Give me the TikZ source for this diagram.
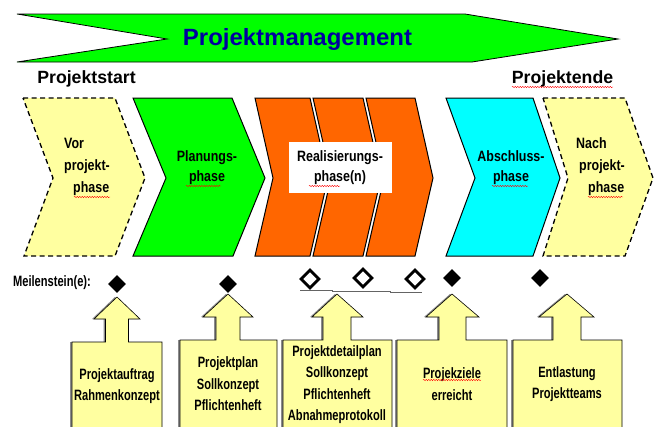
\documentclass[tikz,border=0pt]{standalone}
\usepackage{fontspec}
\setmainfont{Liberation Sans}
\newfontfamily\fT{Liberation Sans}[FakeStretch=1.02]
\newfontfamily\fS{Liberation Sans}
\newfontfamily\fP{Liberation Sans}[FakeStretch=0.83]
\newfontfamily\fB{Liberation Sans}[FakeStretch=0.74]
\usetikzlibrary{shapes.geometric,decorations.pathmorphing}
\definecolor{pale}{RGB}{255,255,160}
\definecolor{pgreen}{RGB}{0,255,0}
\definecolor{porange}{RGB}{255,102,0}
\definecolor{pcyan}{RGB}{0,255,255}
\definecolor{pblue}{RGB}{0,0,160}
\definecolor{lgray}{RGB}{100,100,100}
\definecolor{shgray}{RGB}{140,140,140}
\tikzset{
  chev/.style={draw=black, line width=1pt, line join=miter},
  dashchev/.style={draw=black, line width=1.3pt, dash pattern=on 5pt off 3.5pt, fill=pale},
  abox/.style={draw=black, line width=0.6pt, fill=pale},
  ashadow/.style={fill=shgray},
  lbl/.style={font=\fP\bfseries\fontsize{15}{20}\selectfont, align=center, inner sep=0pt},
  lbl3/.style={font=\fP\bfseries\fontsize{15}{22}\selectfont, align=left, inner sep=0pt, anchor=west},
  boxtxt/.style={font=\fB\bfseries\fontsize{15}{21.5}\selectfont, align=center, inner sep=0pt},
  msfull/.style={shape=diamond, fill=black, minimum width=18pt, minimum height=18pt, inner sep=0pt},
  msopen/.style={shape=diamond, draw=black, line width=2.8pt, fill=white, minimum width=19pt, minimum height=19pt, inner sep=0pt},
  wavy/.style={draw=red, line width=0.4pt, decorate, decoration={snake, amplitude=0.7pt, segment length=2.5pt}},
  hdr/.style={font=\fS\bfseries\fontsize{17.7}{19}\selectfont, inner sep=0pt}
}
\begin{document}
\begin{tikzpicture}[x=1pt,y=-1pt]
\useasboundingbox (0,0) rectangle (655,426);
\fill[white] (0,0) rectangle (655,426);

% top banner
\draw[fill=pgreen, draw=black, line width=0.8pt, line join=miter] (17,14) -- (465,14) -- (618,39) -- (472,62) -- (17,62) -- (167,39) -- cycle;
\node[font=\fT\bfseries\fontsize{23.5}{25}\selectfont, text=pblue, inner sep=0pt] (title) at (297.5,39) {Projektmanagement};

\node[hdr] (start) at (86.5,79) {Projektstart};
\node[hdr] (ende) at (562.5,79) {Projektende};
\draw[wavy] (512,87) -- (613,87);

% phases
\draw[dashchev] (23,98) -- (115,98) -- (145,178) -- (115,256) -- (24,256) -- (53,178) -- cycle;
\draw[chev, fill=pgreen] (133,98) -- (232,98) -- (265,178) -- (233,256) -- (133,256) -- (166,178) -- cycle;
\draw[chev, fill=porange] (255,98) -- (310,98) -- (328,178) -- (310,256) -- (255,256) -- (273,178) -- cycle;
\draw[chev, fill=porange] (313,98) -- (363,98) -- (381,178) -- (363,256) -- (313,256) -- (331,178) -- cycle;
\draw[chev, fill=porange] (366,98) -- (415,98) -- (433,178) -- (415,256) -- (366,256) -- (384,178) -- cycle;
\fill[white] (289,142) rectangle (392,193);
\draw[chev, fill=pcyan] (446,98) -- (533,98) -- (560,178) -- (533,256) -- (446,256) -- (475,178) -- cycle;
\draw[dashchev] (543,98) -- (625,98) -- (653,178) -- (625,256) -- (543,256) -- (568,178) -- cycle;

\node[lbl3] (vor) at (64,167) {Vor\\projekt-\\\hspace*{9pt}phase};
\node[lbl] (plan) at (207,168) {Planungs-\\phase};
\node[lbl] (real) at (340,168) {Realisierungs-\\phase(n)};
\node[lbl] (absch) at (511,168) {Abschluss-\\phase};
\node[lbl3] (nach) at (576,167) {Nach\\\hspace*{3pt}projekt-\\\hspace*{12pt}phase};

\draw[wavy] (74,197) -- (110,197);
\draw[wavy] (186,186) -- (221,186);
\draw[wavy] (309,186) -- (340,186);
\draw[wavy] (492,186) -- (528,186);
\draw[wavy] (588,197) -- (623,197);

% milestones
\node[font=\fB\bfseries\fontsize{15}{16}\selectfont, inner sep=0pt] (mslbl) at (52,283) {Meilenstein(e):};
\draw[draw=lgray, line width=0.8pt] (300,290) -- (332,290) -- (332,291) -- (390,291) -- (390,292) -- (422,292);
\node[msfull] (m1) at (117,284) {};
\node[msfull] (m2) at (228,284) {};
\node[msopen] (m3) at (310,279) {};
\node[msopen] (m4) at (363,278) {};
\node[msopen] (m5) at (415,279) {};
\node[msfull] (m6) at (452,278) {};
\node[msfull] (m7) at (540,278) {};

% result boxes with arrows
\begin{scope}
\clip (0,0) rectangle (655,426);
\begin{scope}[xshift=-2pt]
\fill[ashadow] (117,297) -- (140,319) -- (128.5,319) -- (128.5,342) -- (162,342) -- (162,430) -- (72,430) -- (72,342) -- (105.5,342) -- (105.5,319) -- (94,319) -- cycle;
\fill[ashadow] (228,294) -- (253,317) -- (240,317) -- (240,340) -- (277,340) -- (277,430) -- (180,430) -- (180,340) -- (216,340) -- (216,317) -- (203,317) -- cycle;
\fill[ashadow] (337,294) -- (363,317) -- (351,317) -- (351,340) -- (392,340) -- (392,430) -- (283,430) -- (283,340) -- (323,340) -- (323,317) -- (312,317) -- cycle;
\fill[ashadow] (452,294) -- (479,317) -- (466,317) -- (466,340) -- (507,340) -- (507,430) -- (397,430) -- (397,340) -- (439,340) -- (439,317) -- (426,317) -- cycle;
\fill[ashadow] (567,294) -- (594,317) -- (581,317) -- (581,340) -- (622,340) -- (622,430) -- (513,430) -- (513,340) -- (553,340) -- (553,317) -- (539,317) -- cycle;
\end{scope}
\draw[abox] (117,297) -- (140,319) -- (128.5,319) -- (128.5,342) -- (162,342) -- (162,430) -- (72,430) -- (72,342) -- (105.5,342) -- (105.5,319) -- (94,319) -- cycle;
\draw[abox] (228,294) -- (253,317) -- (240,317) -- (240,340) -- (277,340) -- (277,430) -- (180,430) -- (180,340) -- (216,340) -- (216,317) -- (203,317) -- cycle;
\draw[abox] (337,294) -- (363,317) -- (351,317) -- (351,340) -- (392,340) -- (392,430) -- (283,430) -- (283,340) -- (323,340) -- (323,317) -- (312,317) -- cycle;
\draw[abox] (452,294) -- (479,317) -- (466,317) -- (466,340) -- (507,340) -- (507,430) -- (397,430) -- (397,340) -- (439,340) -- (439,317) -- (426,317) -- cycle;
\draw[abox] (567,294) -- (594,317) -- (581,317) -- (581,340) -- (622,340) -- (622,430) -- (513,430) -- (513,340) -- (553,340) -- (553,317) -- (539,317) -- cycle;
\end{scope}

\node[boxtxt] (b1) at (117,386) {Projektauftrag\\Rahmenkonzept};
\node[boxtxt] (b2) at (228,384) {Projektplan\\Sollkonzept\\Pflichtenheft};
\node[boxtxt] (b3) at (337,384.5) {Projektdetailplan\\Sollkonzept\\Pflichtenheft\\Abnahmeprotokoll};
\node[boxtxt] (b4) at (452,384) {Projekziele\\erreicht};
\node[boxtxt] (b5) at (567,384) {Entlastung\\Projektteams};
\draw[wavy] (423,380) -- (481,380);
\end{tikzpicture}
\end{document}
